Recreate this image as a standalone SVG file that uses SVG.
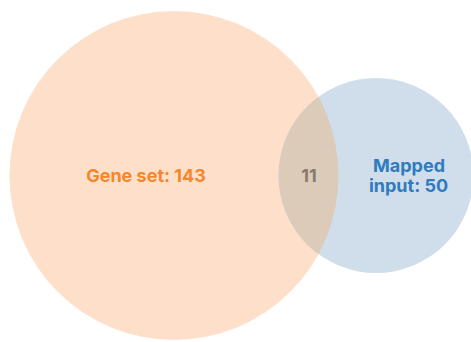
<svg xmlns="http://www.w3.org/2000/svg" width="471" height="342" viewBox="0 0 471 342">
<defs>
<style>
.lbl{font-family:Inter,"Liberation Sans",sans-serif;font-weight:700;font-size:18px;text-anchor:middle}
</style>
<clipPath id="clipA"><circle cx="174" cy="175.5" r="164.5"/></clipPath>
</defs>
<rect width="471" height="342" fill="#ffffff"/>
<g id="geneSet">
<circle cx="174" cy="175.5" r="164.5" fill="#FEE0CA"/>
</g>
<g id="mappedInput">
<circle cx="376" cy="175.5" r="97.5" fill="#D0DEEB"/>
</g>
<g id="overlap">
<circle cx="376" cy="175.5" r="97.5" fill="#DCCBB9" clip-path="url(#clipA)"/>
</g>
<g id="labels">
<text class="lbl" x="146" y="182" fill="#F7862A">Gene set: 143</text>
<text class="lbl" x="309" y="182" fill="#8A7B6C">11</text>
<text class="lbl" x="409" y="171.5" fill="#2F7BBF">Mapped</text>
<text class="lbl" x="408.5" y="191.5" fill="#2F7BBF">input: 50</text>
</g>
<g id="connectors"/>
</svg>
